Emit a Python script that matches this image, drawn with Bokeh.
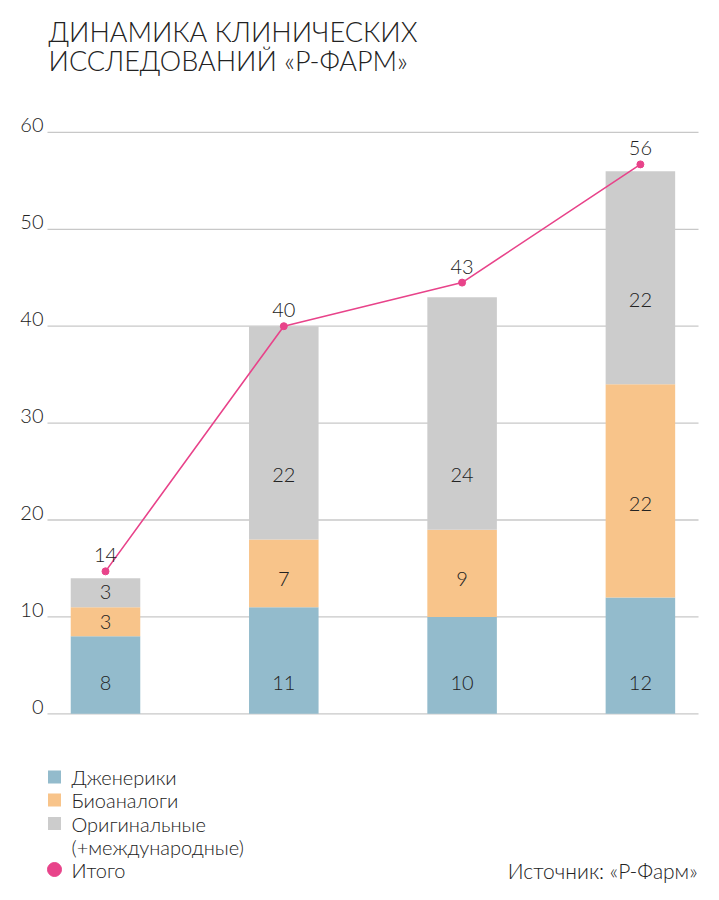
from bokeh.plotting import figure
from bokeh.models import ColumnDataSource, Range1d
from bokeh.embed import file_html
from bokeh.resources import INLINE
from bokeh.core.properties import value

# ---------------- data ----------------
periods = ["1", "2", "3", "4"]
generics = [8, 11, 10, 12]
biosimilars = [3, 7, 9, 22]
originals = [3, 22, 24, 22]
totals = [14, 40, 43, 56]
total_line = [14.7, 40.0, 44.5, 56.7]
bio_label_y = [9.45, 13.86, 13.86, 21.7]
orig_label_y = [12.55, 24.6, 24.6, 42.75]
y_ticks = [0, 10, 20, 30, 40, 50, 60]
y_tick_labels = ["0", "10", "20", "30", "40", "50", "60"]

title_lines = ["ДИНАМИКА КЛИНИЧЕСКИХ", "ИССЛЕДОВАНИЙ «Р-ФАРМ»"]
legend_labels = ["Дженерики", "Биоаналоги", "Оригинальные", "(+международные)", "Итого"]
source_text = "Источник: «Р-Фарм»"

# ---------------- style ----------------
C_GEN = "#93bbcc"
C_BIO = "#f8c48a"
C_ORIG = "#cccccc"
C_TOT = "#e8438a"
C_TEXT = "#222222"
C_GRID = "#c8c8c8"
FONT = "'Lato Light', Lato, sans-serif"

W, H = 715, 896
ZERO = 713.3               # y=0 in page px
PPU = 9.69                 # px per unit on y
XC0, XSTEP = 105.0, 178.3  # first bar centre / bar spacing in px
X0 = -XC0 / XSTEP
X1 = (W - XC0) / XSTEP
Y0 = (ZERO - H) / PPU
Y1 = ZERO / PPU


def dx(px):
    return (px - XC0) / XSTEP


def dy(py):
    return (ZERO - py) / PPU


x = list(range(len(periods)))

p = figure(width=W, height=H, output_backend="svg", toolbar_location=None,
           x_range=Range1d(X0, X1), y_range=Range1d(Y0, Y1),
           min_border=0)
p.outline_line_color = None
p.xaxis.visible = False
p.yaxis.visible = False
p.xgrid.visible = False
p.ygrid.visible = False
p.background_fill_color = "white"
p.border_fill_color = "white"

# grid lines + tick labels
p.segment(x0=[dx(47)] * len(y_ticks), x1=[dx(698)] * len(y_ticks),
          y0=y_ticks, y1=y_ticks, line_color=C_GRID, line_width=1.3)
p.text(x=[dx(43)] * len(y_ticks), y=y_ticks, text=y_tick_labels,
       text_font=value(FONT), text_font_size="20px", text_color=C_TEXT,
       text_align="right", text_baseline="middle", y_offset=-7)

src = ColumnDataSource(dict(x=x, gen=generics, bio=biosimilars, orig=originals,
                            tot=totals, tot_line=total_line,
                            bio_y=bio_label_y, orig_y=orig_label_y,
                            gen_t=[str(v) for v in generics],
                            bio_t=[str(v) for v in biosimilars],
                            orig_t=[str(v) for v in originals],
                            tot_t=[str(v) for v in totals],
                            zero=[0] * len(x)))

p.vbar_stack(["gen", "bio", "orig"], x="x", width=0.39, source=src,
             color=[C_GEN, C_BIO, C_ORIG], line_color=None)

p.line("x", "tot_line", source=src, line_color=C_TOT, line_width=1.6)
p.scatter("x", "tot_line", source=src, size=7, color=C_TOT)

common = dict(text_font=value(FONT), text_font_size="20px", text_color=C_TEXT,
              text_align="center", text_baseline="middle")
p.text("x", "zero", text="gen_t", source=src, y_offset=-31, **common)
p.text("x", "bio_y", text="bio_t", source=src, **common)
p.text("x", "orig_y", text="orig_t", source=src, **common)
p.text("x", "tot_line", text="tot_t", source=src, y_offset=-16, **common)

# title
p.text(x=[dx(48)] * 2, y=[dy(30.5), dy(59.5)], text=title_lines,
       text_font=value(FONT), text_font_size="27px", text_color=C_TEXT,
       text_align="left", text_baseline="middle")

# legend
sq_y = [dy(776.5), dy(799.5), dy(823)]
p.scatter(x=[dx(54)] * 3, y=sq_y, marker="square", size=13,
          color=[C_GEN, C_BIO, C_ORIG], line_color=None)
p.scatter(x=[dx(54)], y=[dy(869)], marker="circle", size=14, color=C_TOT)
p.text(x=[dx(71)] * 5,
       y=[dy(776), dy(799), dy(823), dy(846.5), dy(869)],
       text=legend_labels, text_font=value(FONT), text_font_size="20px",
       text_color=C_TEXT, text_align="left", text_baseline="middle")

# source
p.text(x=[dx(697)], y=[dy(870)], text=[source_text], text_font=value(FONT),
       text_font_size="21px", text_color=C_TEXT, text_align="right",
       text_baseline="middle")

open("out.html", "w").write(file_html(p, INLINE))
